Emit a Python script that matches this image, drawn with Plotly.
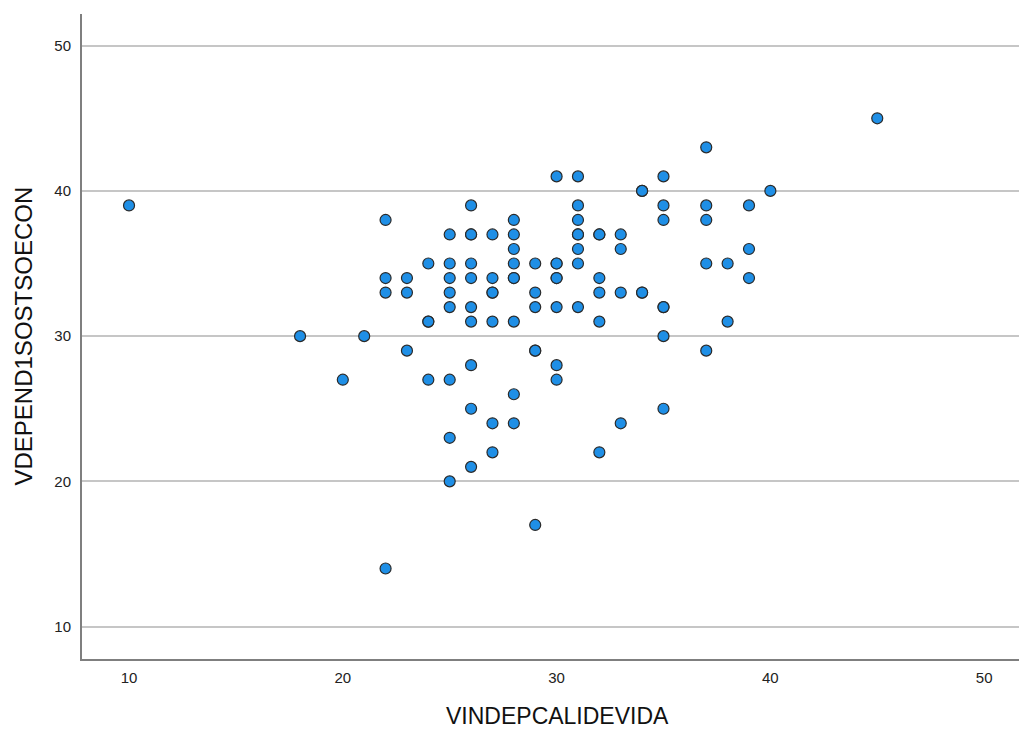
import plotly.graph_objects as go

# VINDEPCALIDEVIDA values (x) and VDEPEND1SOSTSOECON values (y)
x_vals = [
    10,
    18,
    20,
    21,
    22, 22, 22, 22,
    23, 23, 23,
    24, 24, 24, 24,
    25, 25, 25, 25, 25, 25, 25, 25,
    26, 26, 26, 26, 26, 26, 26, 26, 26, 26,
    27, 27, 27, 27, 27, 27, 27,
    28, 28, 28, 28, 28, 28, 28, 28, 28,
    29, 29, 29, 29, 29, 29,
    30, 30, 30, 30, 30, 30, 30, 30,
    31, 31, 31, 31, 31, 31, 31, 31,
    32, 32, 32, 32, 32, 32,
    33, 33, 33, 33,
    34, 34, 34, 34,
    35, 35, 35, 35, 35, 35, 35,
    37, 37, 37, 37, 37,
    38, 38,
    39, 39, 39,
    40,
    45,
]
y_vals = [
    39,
    30,
    27,
    30,
    38, 34, 33, 14,
    34, 33, 29,
    35, 31, 31, 27,
    37, 35, 34, 33, 32, 27, 23, 20,
    39, 37, 37, 35, 34, 32, 31, 28, 25, 21,
    37, 34, 33, 33, 31, 24, 22,
    38, 37, 36, 35, 34, 34, 31, 26, 24,
    35, 33, 32, 29, 29, 17,
    41, 35, 35, 34, 34, 32, 28, 27,
    41, 39, 38, 37, 37, 36, 35, 32,
    37, 37, 34, 33, 31, 22,
    37, 36, 33, 24,
    40, 40, 33, 33,
    41, 39, 38, 32, 32, 30, 25,
    43, 39, 38, 35, 29,
    35, 31,
    39, 36, 34,
    40,
    45,
]

x_ticks = [10, 20, 30, 40, 50]
y_ticks = [10, 20, 30, 40, 50]
x_title = "VINDEPCALIDEVIDA"
y_title = "VDEPEND1SOSTSOECON"

fig = go.Figure()
fig.add_trace(go.Scatter(
    x=x_vals, y=y_vals, mode="markers",
    marker=dict(size=11, color="#1f8fe6",
                line=dict(color="#2a2a2a", width=1.2)),
    hoverinfo="x+y",
))

font_family = "Liberation Sans, Arial, sans-serif"
fig.update_layout(
    width=1019, height=729,
    margin=dict(l=82, r=0, t=14, b=70, autoexpand=False),
    paper_bgcolor="white", plot_bgcolor="white",
    showlegend=False,
    font=dict(family=font_family, color="#222222"),
    annotations=[
        dict(text=x_title, xref="paper", yref="paper", x=0.507, y=0,
             xanchor="center", yanchor="middle", yshift=-57, showarrow=False,
             font=dict(size=23, family=font_family, color="#111111")),
        dict(text=y_title, xref="paper", yref="paper", x=0, y=0.5,
             xanchor="center", yanchor="middle", xshift=-59, textangle=-90,
             showarrow=False,
             font=dict(size=24, family=font_family, color="#111111")),
    ],
)
fig.update_xaxes(
    range=[7.8, 51.63], tickvals=x_ticks, ticktext=[str(v) for v in x_ticks],
    showgrid=False, zeroline=False, automargin=False,
    showline=True, linecolor="#7f7f7f", linewidth=2,
    ticks="", ticklabelstandoff=4,
    tickfont=dict(size=15, family=font_family, color="#222222"),
)
fig.update_yaxes(
    range=[7.77, 52.18], tickvals=y_ticks, ticktext=[str(v) for v in y_ticks],
    showgrid=True, gridcolor="#c6c6c6", gridwidth=1.5, zeroline=False,
    automargin=False,
    showline=True, linecolor="#7f7f7f", linewidth=2,
    ticks="", ticklabelstandoff=6,
    tickfont=dict(size=15, family=font_family, color="#222222"),
)

fig.write_html(
    "out.html",
    config={"displayModeBar": False},
    post_script="document.body.style.margin='0';document.body.style.overflow='hidden';",
)
